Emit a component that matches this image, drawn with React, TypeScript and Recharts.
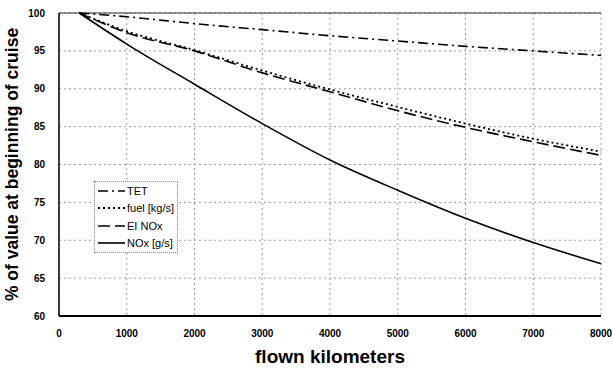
import React from 'react';
import { LineChart, Line, XAxis, YAxis, CartesianGrid, Legend, ReferenceLine } from 'recharts';

const distanceKm = [300, 1000, 2000, 3000, 4000, 5000, 6000, 7000, 8000];
const tet = [100, 99.5, 98.6, 97.8, 97.0, 96.3, 95.6, 95.0, 94.4];
const fuel = [100, 97.6, 95.1, 92.4, 89.9, 87.6, 85.4, 83.4, 81.7];
const eiNox = [100, 97.4, 95.0, 92.1, 89.6, 87.1, 84.9, 83.0, 81.2];
const noxFlow = [100, 95.9, 90.6, 85.4, 80.6, 76.6, 72.9, 69.7, 66.9];

const xTicks = [0, 1000, 2000, 3000, 4000, 5000, 6000, 7000, 8000];
const yTicks = [60, 65, 70, 75, 80, 85, 90, 95, 100];

const rows = distanceKm.map((km, i) => ({
  km,
  tet: tet[i],
  fuel: fuel[i],
  eiNox: eiNox[i],
  nox: noxFlow[i],
}));

const seriesStyle = [
  { key: 'tet', name: 'TET', dash: '10 4 2 4', width: 1.6 },
  { key: 'fuel', name: 'fuel [kg/s]', dash: '2 3', width: 1.8 },
  { key: 'eiNox', name: 'EI NOx', dash: '12 5', width: 1.6 },
  { key: 'nox', name: 'NOx [g/s]', dash: undefined, width: 1.6 },
];

const font = 'Arial, "Liberation Sans", sans-serif';

function LegendBox() {
  return (
    <div
      style={{
        border: '1px dotted #888',
        background: '#fff',
        padding: '0px 3px 0px 1px',
        fontFamily: font,
        fontSize: 11,
      }}
    >
      {seriesStyle.map((s) => (
        <div key={s.key} style={{ display: 'flex', alignItems: 'center', height: 17.5 }}>
          <svg width={30} height={8}>
            <line x1={2} y1={4} x2={29} y2={4} stroke="#000" strokeWidth={s.width} strokeDasharray={s.dash} />
          </svg>
          <span style={{ marginLeft: 1 }}>{s.name}</span>
        </div>
      ))}
    </div>
  );
}

export default function App() {
  return (
    <div style={{ position: 'absolute', left: 0, top: 0, background: '#fff' }}>
      <LineChart width={613} height={368} data={rows} margin={{ top: 13, right: 12, bottom: 10, left: 0 }}>
        <CartesianGrid stroke="#999" strokeDasharray="2 3" />
        <XAxis
          type="number"
          dataKey="km"
          domain={[0, 8000]}
          ticks={xTicks}
          tickLine={false}
          axisLine={{ stroke: '#000', strokeWidth: 2 }}
          tick={{ fill: '#000', fontSize: 10, fontWeight: 'bold', fontFamily: font }}
          tickMargin={8}
          height={42}
          label={{
            value: 'flown kilometers',
            position: 'insideBottom',
            offset: -5,
            style: { fill: '#000', fontSize: 19, fontWeight: 'bold', fontFamily: font },
          }}
        />
        <YAxis
          type="number"
          domain={[60, 100]}
          ticks={yTicks}
          tickLine={false}
          axisLine={{ stroke: '#000', strokeWidth: 1.5 }}
          tick={{ fill: '#000', fontSize: 10, fontWeight: 'bold', fontFamily: font }}
          tickMargin={8}
          width={59}
          label={{
            value: '% of value at beginning of cruise',
            angle: -90,
            position: 'insideLeft',
            offset: 12,
            style: { textAnchor: 'middle', fill: '#000', fontSize: 17.5, fontWeight: 'bold', fontFamily: font },
          }}
        />
        <YAxis
          yAxisId="frame"
          orientation="right"
          domain={[60, 100]}
          tick={false}
          tickLine={false}
          width={0}
          axisLine={{ stroke: '#000', strokeWidth: 2 }}
        />
        <ReferenceLine y={100} stroke="#333" strokeWidth={1} />
        <Legend
          layout="vertical"
          align="center"
          verticalAlign="middle"
          content={() => <LegendBox />}
          wrapperStyle={{ left: 94, top: 181, width: 'auto' }}
        />
        {seriesStyle.map((s) => (
          <Line
            key={s.key}
            type="monotone"
            dataKey={s.key}
            name={s.name}
            stroke="#000"
            strokeWidth={s.width}
            strokeDasharray={s.dash}
            dot={false}
            isAnimationActive={false}
          />
        ))}
      </LineChart>
    </div>
  );
}
